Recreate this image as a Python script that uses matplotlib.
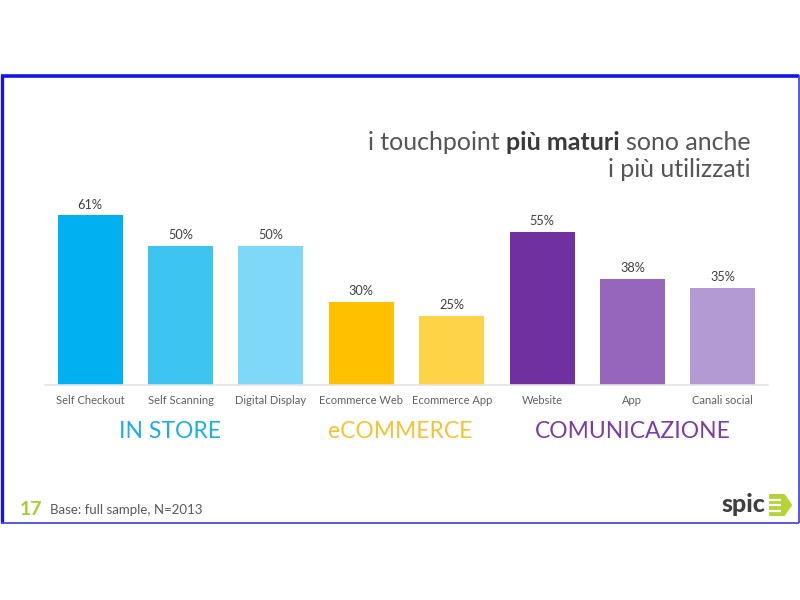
import matplotlib
matplotlib.use("Agg")
import matplotlib.pyplot as plt
from matplotlib.patches import Polygon

categories = ["Self Checkout", "Self Scanning", "Digital Display", "Ecommerce Web",
              "Ecommerce App", "Website", "App", "Canali social"]
values = [61, 50, 50, 30, 25, 55, 38, 35]
value_labels = ["61%", "50%", "50%", "30%", "25%", "55%", "38%", "35%"]
bar_colors = ["#00B0F0", "#3EC4F1", "#80D8F8", "#FFC000", "#FFD347",
              "#7030A0", "#9566BC", "#B39AD3"]
groups = ["IN STORE", "eCOMMERCE", "COMUNICAZIONE"]
group_colors = ["#1AAEEB", "#F7C232", "#7A3DA8"]
group_centers = [0.88, 3.43, 6.0]

plt.rcParams['font.family'] = ['Lato', 'DejaVu Sans']

W, H = 800, 600
fig = plt.figure(figsize=(8, 6), dpi=100)
fig.patch.set_facecolor("white")

def fx(px):
    return px / W

def fy(py):
    return 1 - py / H

# slide frame
frame = fig.add_axes([0, 0, 1, 1], zorder=0)
frame.set_xlim(0, W)
frame.set_ylim(H, 0)
frame.axis("off")
frame.plot([1, 799], [76, 76], color="#1414E6", lw=2.6, solid_capstyle="butt")
frame.plot([1.5, 1.5], [75, 523], color="#1414E6", lw=2.4, solid_capstyle="butt")
frame.plot([798.5, 798.5], [75, 523], color="#3A3AE6", lw=1.2, solid_capstyle="butt")
frame.plot([1, 799], [523, 523], color="#4A4AE0", lw=1.3, solid_capstyle="butt")

# bar axes
ax = fig.add_axes([fx(45), fy(385), fx(768) - fx(45), (385 - 190.4) / H], zorder=1)
ax.set_xlim(-0.5, 7.5)
ax.set_ylim(0, 70)
x = list(range(len(categories)))
ax.bar(x, values, width=0.72, color=bar_colors, zorder=2)
for xi, v, lab in zip(x, values, value_labels):
    ax.annotate(lab, (xi, v), xytext=(0, 3.5), textcoords="offset points",
                ha="center", va="bottom", fontsize=9.2, color="#404040")
for s in ["top", "right", "left"]:
    ax.spines[s].set_visible(False)
ax.spines["bottom"].set_color("#E4E4E4")
ax.spines["bottom"].set_linewidth(1.2)
ax.set_yticks([])
ax.set_xticks(x)
ax.set_xticklabels(categories, fontsize=8, color="#606060")
ax.tick_params(axis="x", length=0, pad=7)
ax.patch.set_alpha(0)

# group labels
for g, gc, c in zip(groups, group_colors, group_centers):
    ax.annotate(g, (c, 0), xycoords=("data", "axes fraction"),
                xytext=(0, -33.5), textcoords="offset points",
                ha="center", va="center", fontsize=16.5, color=gc, annotation_clip=False)

# title
tcol = "#555555"
fs = 18
t1 = fig.text(fx(751), fy(150), "sono anche", ha="right", va="baseline",
              fontsize=fs, color=tcol)
a2 = plt.annotate("più maturi", xy=(0, 0), xycoords=t1, xytext=(-4.5, 0),
                  textcoords="offset points", ha="right", va="bottom",
                  fontsize=fs, color="#3A3A3A", fontweight="bold", annotation_clip=False)
plt.annotate("i touchpoint", xy=(0, 0), xycoords=a2, xytext=(-4.5, 0),
             textcoords="offset points", ha="right", va="bottom",
             fontsize=fs, color=tcol, annotation_clip=False)
fig.text(fx(751), fy(177), "i più utilizzati", ha="right", va="baseline",
         fontsize=fs, color=tcol)

# footer
fig.text(fx(20), fy(515), "17", ha="left", va="baseline", fontsize=14,
         color="#A8CC2E", fontweight="bold")
fig.text(fx(50), fy(514), "Base: full sample, N=2013", ha="left", va="baseline",
         fontsize=9.5, color="#595959")

# logo
fig.text(fx(722), fy(512), "spic", ha="left", va="baseline", fontsize=18,
         color="#3F3F3F", fontweight="black")
frame.add_patch(Polygon([(770, 495), (784, 495), (791, 505), (784, 515), (770, 515)],
                        closed=True, facecolor="#B5D334", edgecolor="#B5D334",
                        lw=1.5, joinstyle="round"))
for yy in [499.5, 505, 510.5]:
    frame.plot([769, 781], [yy, yy], color="white", lw=1.6, solid_capstyle="butt")

fig.savefig("out.png", dpi=100, facecolor="white")
